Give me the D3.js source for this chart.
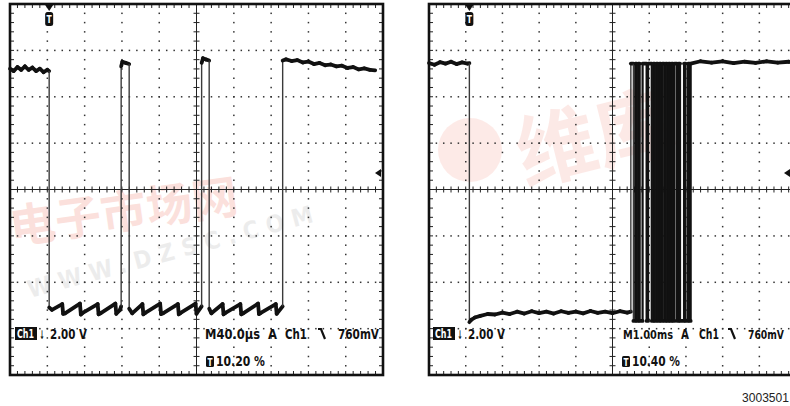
<!DOCTYPE html>
<html>
<head>
<meta charset="utf-8">
<script src="https://cdn.jsdelivr.net/npm/d3@7"></script>
<style>
  body { margin: 0; background: #fff; overflow: hidden; }
  svg { display: block; }
</style>
</head>
<body>
<div id="chart"></div>
<script>
// ---- captured data ----
// left screen: time in µs (trigger = 0), Ch1 in volts
const LEFT_TRACE = [
    [-42, 11.35], [-38, 11.25], [-34, 11.42], [-30, 11.3], [-26, 11.45], [-22, 11.3], [-18, 11.4], [-14, 11.25], [-10, 11.35], [-6, 11.2], [-2, 11.3], [0, 11.25],
    [0, 1.05], [3, 0.95], [14, 1.2], [15, 0.78], [17, 0.8], [33, 1.22], [34, 0.75], [36, 0.82], [52, 1.2], [53, 0.76], [55, 0.8], [71, 1.22], [72, 0.78], [76, 0.95], [77.2, 1.1],
    [77.2, 11.45], [78.5, 11.65], [82, 11.6], [85.8, 11.55],
    [85.8, 1.0], [89, 0.8], [100, 1.2], [101, 0.76], [103, 0.82], [119, 1.22], [120, 0.77], [122, 0.8], [138, 1.2], [139, 0.76], [141, 0.82], [157, 1.22], [158, 0.78], [163.5, 1.1],
    [163.5, 11.6], [165, 11.8], [168, 11.75], [171.6, 11.7],
    [171.6, 1.0], [174, 0.8], [186, 1.2], [187, 0.76], [189, 0.82], [205, 1.2], [206, 0.76], [208, 0.8], [224, 1.22], [225, 0.77], [227, 0.82], [243, 1.2], [244, 0.78], [250.4, 1.1],
    [250.4, 11.7], [254, 11.75], [260, 11.68], [266, 11.72], [272, 11.62], [278, 11.66], [284, 11.55], [290, 11.6], [296, 11.5], [302, 11.53],
    [308, 11.45], [314, 11.48], [320, 11.38], [326, 11.42], [332, 11.32], [338, 11.36], [344, 11.3], [349.6, 11.28]
];

// right screen: time in ms (trigger = 0), Ch1 in volts
const RIGHT_PRE = [[-1.1, 11.62], [-0.95, 11.55], [-0.8, 11.66], [-0.65, 11.6], [-0.5, 11.68], [-0.35, 11.58], [-0.2, 11.65], [-0.05, 11.6], [0, 11.62]];
const RIGHT_LOW = [
    [0, 0.45], [0.05, 0.55], [0.15, 0.65], [0.3, 0.72], [0.5, 0.8], [0.7, 0.78], [0.9, 0.86], [1.1, 0.8], [1.3, 0.9], [1.5, 0.82], [1.7, 0.92], [1.9, 0.84],
    [2.1, 0.9], [2.3, 0.82], [2.5, 0.92], [2.7, 0.85], [2.9, 0.9], [3.1, 0.83], [3.3, 0.93], [3.5, 0.85], [3.7, 0.9], [3.9, 0.84], [4.1, 0.92], [4.3, 0.86], [4.40, 0.9]
];
const BURST_EDGES = [4.40, 4.47, 4.52, 4.56, 4.60, 4.64, 4.72, 4.83, 4.87, 4.97, 5.01, 5.05, 5.09, 5.14, 5.18, 5.22, 5.26,
    5.31, 5.35, 5.39, 5.43, 5.47, 5.51, 5.55, 5.59, 5.66, 5.70, 5.74, 5.85, 5.89, 5.96, 6.00, 6.03];
const BURST_HIGH = 11.6;
const BURST_LOW = 0.5;
const RIGHT_POST = [[6.03, 11.6], [6.3, 11.7], [6.6, 11.64], [6.9, 11.7], [7.2, 11.62], [7.5, 11.68], [7.8, 11.63], [8.1, 11.7], [8.4, 11.64], [8.7, 11.68], [8.9, 11.66]];

// readouts
const CH_LABEL = 'Ch1';
const CH_SCALE = '2.00 V';
const LEFT_READOUT = ['M40.0µs', 'A', 'Ch1', '760mV'];
const RIGHT_READOUT = ['M1.00ms', 'A', 'Ch1', '760mV'];
const LEFT_TRIG_POS = '10.20 %';
const RIGHT_TRIG_POS = '10.40 %';
const FIG_LABEL = '3003501';

const WIDTH = 790, HEIGHT = 406;
const FONT = '"DejaVu Sans Condensed", "DejaVu Sans", sans-serif';

const svg = d3.select('#chart')
    .append('svg')
    .attr('width', WIDTH)
    .attr('height', HEIGHT);

// faint site watermark behind everything
const wm = svg.append('g').attr('id', 'watermark');
wm.append('text')
    .attr('x', 12).attr('y', 244)
    .attr('transform', 'rotate(-8, 12, 244)')
    .style('font-family', '"Noto Sans CJK SC", sans-serif').style('font-weight', 'bold')
    .style('font-size', '46px').style('fill', '#f06a55').style('opacity', 0.2)
    .text('电子市场网');
wm.append('text')
    .attr('x', 30).attr('y', 298)
    .attr('transform', 'rotate(-15, 30, 298)')
    .style('font-family', FONT).style('font-weight', 'bold')
    .style('font-size', '24px').style('letter-spacing', '8px').style('fill', '#888').style('opacity', 0.15)
    .text('WWW.DZSC.COM');
wm.append('circle')
    .attr('cx', 470).attr('cy', 150).attr('r', 32)
    .style('fill', '#f06a55').style('opacity', 0.14);
wm.append('text')
    .attr('x', 525).attr('y', 185)
    .attr('transform', 'rotate(-14, 525, 185)')
    .style('font-family', '"Noto Sans CJK SC", sans-serif').style('font-weight', 'bold')
    .style('font-size', '80px').style('fill', '#f06a55').style('opacity', 0.14)
    .text('维库');

// panel frames
const PANELS = [
    { id: 'left', x0: 10, y0: 4, w: 373, h: 371, tDomain: [-42, 358], vDomain: [-1.86, 14.14] },
    { id: 'right', x0: 429, y0: 4, w: 367, h: 371, tDomain: [-1.1, 8.9], vDomain: [-1.83, 14.17] }
];

function drawGrid(g, p) {
    const dx = p.w / 10, dy = p.h / 8;
    const dots = [];
    d3.range(1, 10).filter(i => i !== 5).forEach(i => {
        d3.range(0, 41).forEach(k => dots.push([p.x0 + i * dx, p.y0 + k * dy / 5]));
    });
    d3.range(1, 8).filter(j => j !== 4).forEach(j => {
        d3.range(0, 51).forEach(k => dots.push([p.x0 + k * dx / 5, p.y0 + j * dy]));
    });
    g.append('g')
        .selectAll('rect')
        .data(dots)
        .enter()
        .append('rect')
        .attr('x', d => d[0] - 0.7)
        .attr('y', d => d[1] - 0.7)
        .attr('width', 1.5)
        .attr('height', 1.5)
        .style('fill', '#333');

    const cx = p.x0 + 5 * dx, cy = p.y0 + 4 * dy;
    const ticks = [];
    d3.range(0, 51).forEach(k => {
        const x = p.x0 + k * dx / 5;
        ticks.push([x, cy - 3, x, cy + 3]);
        ticks.push([x, p.y0, x, p.y0 + 4]);
        ticks.push([x, p.y0 + p.h, x, p.y0 + p.h - 4]);
    });
    d3.range(0, 41).forEach(k => {
        const y = p.y0 + k * dy / 5;
        ticks.push([cx - 3, y, cx + 3, y]);
        ticks.push([p.x0, y, p.x0 + 4, y]);
        ticks.push([p.x0 + p.w, y, p.x0 + p.w - 4, y]);
    });
    ticks.push([p.x0, cy, p.x0 + p.w, cy]);
    ticks.push([cx, p.y0, cx, p.y0 + p.h]);
    g.append('g')
        .selectAll('line')
        .data(ticks)
        .enter()
        .append('line')
        .attr('x1', d => d[0]).attr('y1', d => d[1])
        .attr('x2', d => d[2]).attr('y2', d => d[3])
        .style('stroke', '#222')
        .style('stroke-width', 1);

    g.append('rect')
        .attr('x', p.x0).attr('y', p.y0)
        .attr('width', p.w).attr('height', p.h)
        .style('fill', 'none')
        .style('stroke', '#111')
        .style('stroke-width', 2.6);
}

// vertical segments are the fast edges, thin and grey unless inside a dense burst
function drawTrace(g, pts, x, y, denseFrom = Infinity) {
    const segs = d3.pairs(pts);
    const isEdge = d => d[0][0] === d[1][0];
    g.append('g')
        .selectAll('line')
        .data(segs)
        .enter()
        .append('line')
        .attr('x1', d => x(d[0][0])).attr('y1', d => y(d[0][1]))
        .attr('x2', d => x(d[1][0])).attr('y2', d => y(d[1][1]))
        .style('stroke', d => isEdge(d) && d[0][0] < denseFrom ? '#3a3a3a' : '#111')
        .style('stroke-width', d => !isEdge(d) ? 3.8 : d[0][0] >= denseFrom ? 2.2 : 1.4)
        .style('stroke-linecap', d => isEdge(d) ? 'butt' : 'round');
}

function txt(g, x, y, s, len, size, opts = {}) {
    const t = g.append('text')
        .attr('x', x).attr('y', y)
        .style('font-family', opts.family || FONT)
        .style('font-weight', opts.weight || 'bold')
        .style('font-size', size + 'px')
        .style('fill', opts.fill || '#111')
        .text(s);
    if (len) t.attr('textLength', len).attr('lengthAdjust', 'spacingAndGlyphs');
    return t;
}

function drawTrigMarker(g, x, y0) {
    g.append('path')
        .attr('d', `M${x - 4},${y0 + 1} L${x + 4},${y0 + 1} L${x},${y0 + 7} Z`)
        .style('fill', '#111');
    g.append('rect')
        .attr('x', x - 4).attr('y', y0 + 8)
        .attr('width', 8).attr('height', 14).attr('rx', 2.5)
        .style('fill', '#111');
    txt(g, x - 2.6, y0 + 19, 'T', 5.2, 10, { fill: '#fff' });
}

function drawTBox(g, x, yBase) {
    g.append('rect')
        .attr('x', x).attr('y', yBase - 10)
        .attr('width', 8).attr('height', 11).attr('rx', 1.5)
        .style('fill', '#111');
    txt(g, x + 1.5, yBase - 0.5, 'T', 5, 10, { fill: '#fff' });
}

function drawFallSymbol(g, x, yBase) {
    g.append('path')
        .attr('d', `M${x},${yBase - 10} L${x + 3},${yBase - 10} L${x + 7},${yBase}`)
        .style('fill', 'none')
        .style('stroke', '#111')
        .style('stroke-width', 2.2);
}

function drawChannel(g, x, yBase) {
    g.append('rect')
        .attr('x', x).attr('y', yBase - 12)
        .attr('width', 22).attr('height', 13)
        .style('fill', '#111');
    txt(g, x + 2, yBase - 1, CH_LABEL, 17, 11.5, { fill: '#fff' });
    txt(g, x + 24.5, yBase, '↓', 5, 12);
    txt(g, x + 35, yBase, CH_SCALE, 37, 14);
}

// ---- left screen ----
const pL = PANELS[0];
const gL = svg.append('g').attr('id', pL.id);
drawGrid(gL, pL);
const xL = d3.scaleLinear().domain(pL.tDomain).range([pL.x0, pL.x0 + pL.w]);
const yL = d3.scaleLinear().domain(pL.vDomain).range([pL.y0 + pL.h, pL.y0]);
drawTrace(gL, LEFT_TRACE, xL, yL);
drawTrigMarker(gL, xL(0), pL.y0);
gL.append('path').attr('d', 'M375,173 L381,169 L381,177 Z').style('fill', '#111');
drawChannel(gL, 15, 339);
txt(gL, 205, 339, LEFT_READOUT[0], 55, 14);
txt(gL, 268, 339, LEFT_READOUT[1], 9, 14);
txt(gL, 285, 339, LEFT_READOUT[2], 22, 14);
drawFallSymbol(gL, 318, 339);
txt(gL, 338, 339, LEFT_READOUT[3], 41, 14);
drawTBox(gL, 206, 366);
txt(gL, 216, 366, LEFT_TRIG_POS, 49, 14);

// ---- right screen ----
const pR = PANELS[1];
svg.append('clipPath').attr('id', 'clipR')
    .append('rect').attr('x', pR.x0 - 3).attr('y', 0).attr('width', pR.w + 6).attr('height', HEIGHT);
const gR = svg.append('g').attr('id', pR.id).attr('clip-path', 'url(#clipR)');
drawGrid(gR, pR);
const xR = d3.scaleLinear().domain(pR.tDomain).range([pR.x0, pR.x0 + pR.w]);
const yR = d3.scaleLinear().domain(pR.vDomain).range([pR.y0 + pR.h, pR.y0]);

const rightTrace = [...RIGHT_PRE, ...RIGHT_LOW];
let cur = RIGHT_LOW[RIGHT_LOW.length - 1][1];
BURST_EDGES.forEach((t, i) => {
    const next = i % 2 === 0 ? BURST_HIGH : BURST_LOW;
    rightTrace.push([t, cur], [t, next]);
    cur = next;
});
rightTrace.push(...RIGHT_POST);
drawTrace(gR, rightTrace, xR, yR, BURST_EDGES[2]);
drawTrigMarker(gR, xR(0), pR.y0);
gR.append('path').attr('d', 'M784,173 L790,169 L790,177 Z').style('fill', '#111');
drawChannel(gR, 433, 339);
txt(gR, 623, 339, RIGHT_READOUT[0], 50, 12.5);
txt(gR, 681, 339, RIGHT_READOUT[1], 8, 14);
txt(gR, 699, 339, RIGHT_READOUT[2], 20, 14);
drawFallSymbol(gR, 728, 339);
txt(svg, 748, 339, RIGHT_READOUT[3], 36, 11.5);
drawTBox(gR, 622, 366);
txt(gR, 632, 366, RIGHT_TRIG_POS, 48, 14);

// figure number, bottom right
txt(svg, 742, 402, FIG_LABEL, 47, 12, { family: '"Liberation Sans", Arial, sans-serif', weight: 'normal', fill: '#222' });
</script>
</body>
</html>
